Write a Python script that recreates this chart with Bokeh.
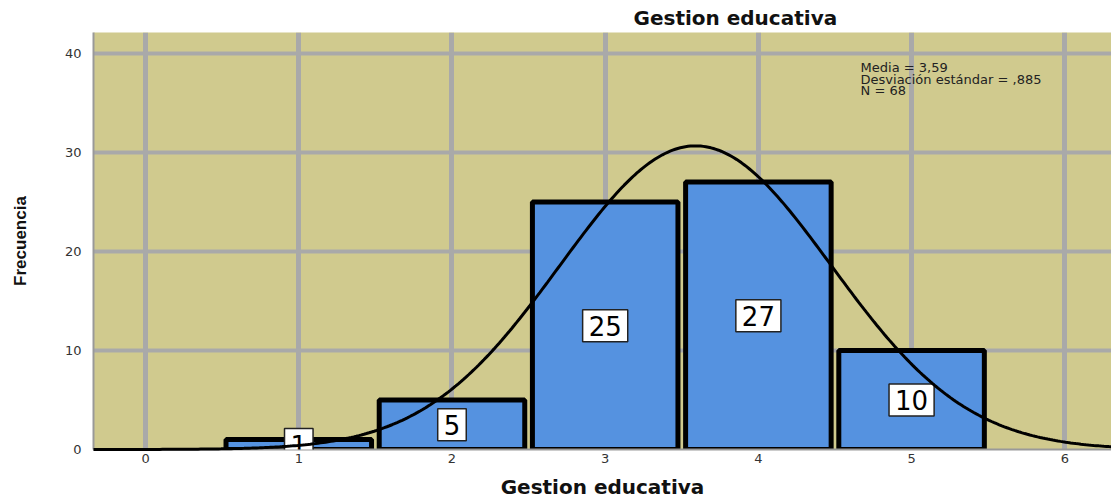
import numpy as np
from bokeh.plotting import figure
from bokeh.models import Label, Title, FixedTicker
from bokeh.embed import file_html
from bokeh.resources import INLINE

# ---- data ----
categories = [1, 2, 3, 4, 5]
counts = [1, 5, 25, 27, 10]
mean_val = 3.59
sd_val = 0.885
n_val = 68
x_ticks = [0, 1, 2, 3, 4, 5, 6]
y_ticks = [0, 10, 20, 30, 40]
stats_lines = ["Media = 3,59", "Desviación estándar = ,885", "N = 68"]
title_text = "Gestion educativa"
x_label = "Gestion educativa"
y_label = "Frecuencia"

X_START, X_END = -0.34, 6.305
Y_START, Y_END = 0, 42.1

p = figure(width=1111, height=501, x_range=(X_START, X_END), y_range=(Y_START, Y_END),
           output_backend="svg", toolbar_location=None,
           min_border_left=93, min_border_right=0, min_border_top=32, min_border_bottom=52)

p.title = Title(text=title_text, align="left", offset=540, standoff=6,
                text_font="DejaVu Sans", text_font_size="20px", text_font_style="bold",
                text_color="#111111")

p.background_fill_color = "#d0ca8e"
p.border_fill_color = "white"
p.outline_line_color = None

# grid
p.xgrid.ticker = FixedTicker(ticks=x_ticks)
p.ygrid.ticker = FixedTicker(ticks=y_ticks)
p.xgrid.grid_line_color = "#a9a9a9"
p.xgrid.grid_line_width = 5
p.ygrid.grid_line_color = "#a9a9a9"
p.ygrid.grid_line_width = 4

# axes
p.xaxis.ticker = FixedTicker(ticks=x_ticks)
p.yaxis.ticker = FixedTicker(ticks=y_ticks)
for ax in (p.xaxis, p.yaxis):
    ax.axis_line_color = "#999999"
    ax.axis_line_width = 2
    ax.major_tick_line_color = None
    ax.major_tick_out = 0
    ax.major_tick_in = 0
    ax.minor_tick_line_color = None
    ax.minor_tick_out = 0
    ax.minor_tick_in = 0
    ax.major_label_text_font = "DejaVu Sans"
    ax.major_label_text_font_size = "13px"
    ax.major_label_text_color = "#333333"
p.xaxis.major_label_standoff = 4
p.yaxis.major_label_standoff = 12

p.xaxis.axis_label = x_label
p.xaxis.axis_label_text_font = "DejaVu Sans"
p.xaxis.axis_label_text_font_size = "20px"
p.xaxis.axis_label_text_font_style = "bold"
p.xaxis.axis_label_text_color = "#111111"
p.xaxis.axis_label_standoff = 9

p.yaxis.axis_label = y_label
p.yaxis.axis_label_text_font = "Liberation Sans"
p.yaxis.axis_label_text_font_size = "17px"
p.yaxis.axis_label_text_font_style = "bold"
p.yaxis.axis_label_text_color = "#111111"
p.yaxis.axis_label_standoff = 32

# bars
p.vbar(x=categories, top=counts, bottom=0, width=0.95,
       fill_color="#5592e0", line_color="black", line_width=5)

# value labels
for c, v in zip(categories, counts):
    p.add_layout(Label(x=c, y=v / 2, text=str(v), text_align="center", text_baseline="middle",
                       text_font="DejaVu Sans", text_font_size="26px", text_color="black",
                       background_fill_color="white", border_line_color="#222222",
                       border_line_width=1.5, padding=6))

# normal curve fitted from mean, sd and N
xs = np.linspace(X_START, X_END, 400)
ys = n_val * 1.0 / (sd_val * np.sqrt(2 * np.pi)) * np.exp(-0.5 * ((xs - mean_val) / sd_val) ** 2)
p.line(xs, ys, line_color="black", line_width=3, level="overlay")

# stats text
for i, t in enumerate(stats_lines):
    p.add_layout(Label(x=4.667, y=39.3 - i * 1.17, text=t, text_align="left", text_baseline="top",
                       text_font="DejaVu Sans", text_font_size="13px", text_color="#222222"))

open("out.html", "w").write(file_html(p, INLINE))
